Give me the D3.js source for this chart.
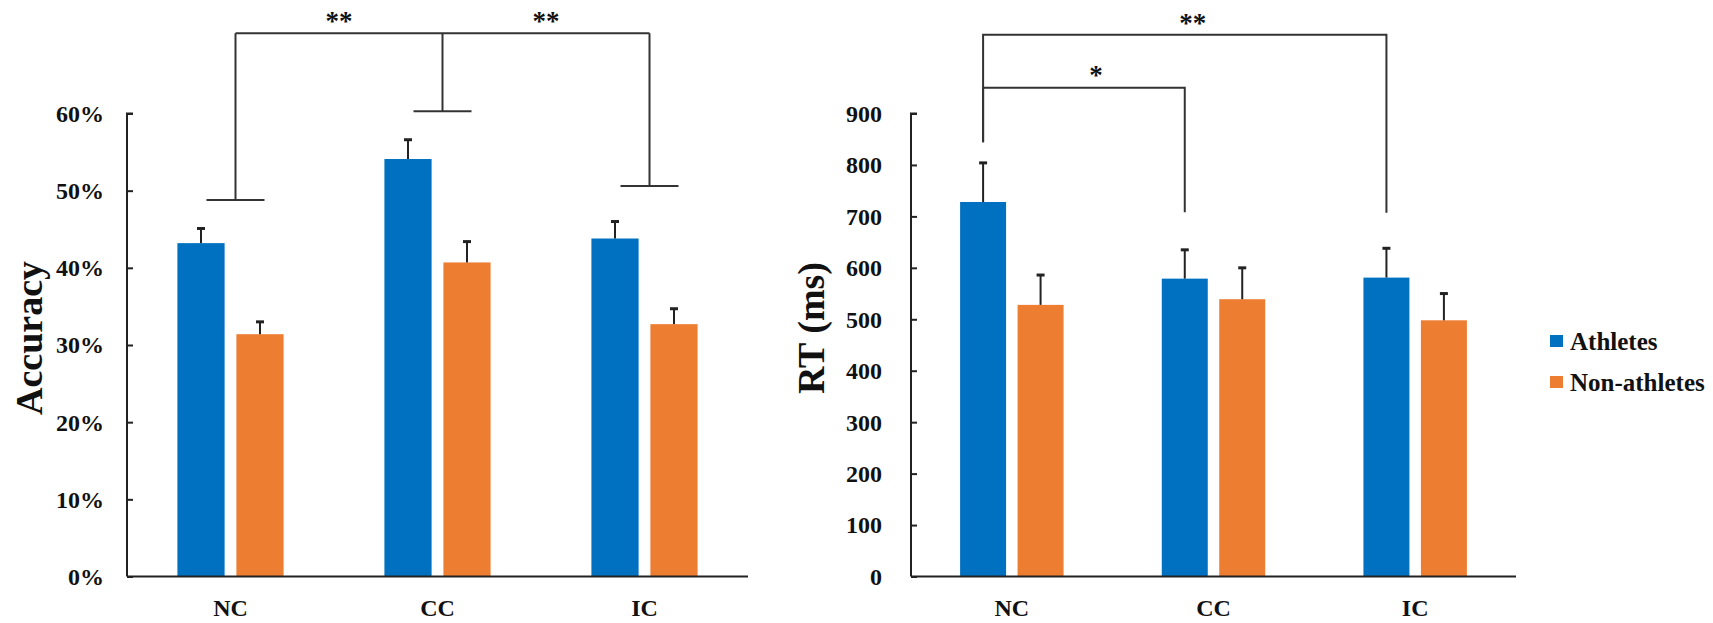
<!DOCTYPE html>
<html>
<head>
<meta charset="utf-8">
<script src="https://cdn.jsdelivr.net/npm/d3@7"></script>
<style>
  body { margin: 0; background: #fff; }
  svg text { font-family: "Liberation Serif", "Times New Roman", serif; font-weight: bold; fill: #111; }
</style>
</head>
<body>
<div id="g"></div>
<script>
// ---- data ----
var categories = ["NC", "CC", "IC"];
var series = ["Athletes", "Non-athletes"];
var colors = ["#0070C0", "#ED7D31"];

var accAthletes = [0.432, 0.541, 0.438];
var accAthletesErr = [0.019, 0.025, 0.022];
var accNon = [0.314, 0.407, 0.327];
var accNonErr = [0.016, 0.027, 0.020];
var accTicks = [0, 0.1, 0.2, 0.3, 0.4, 0.5, 0.6];

var rtAthletes = [728, 579, 581];
var rtAthletesErr = [76, 56, 57];
var rtNon = [528, 539, 498];
var rtNonErr = [58, 61, 52];
var rtTicks = [0, 100, 200, 300, 400, 500, 600, 700, 800, 900];

// significance brackets (leg ends in data units)
var accLegs = [0.488, 0.603, 0.506];
var accBracketTop = 0.704;
var accStars = [["NC", "CC", "**"], ["CC", "IC", "**"]];

var rtOuterLegs = [844, 707];   // NC -> IC
var rtOuterTop = 1053;
var rtInnerLegs = [844, 708];   // NC -> CC
var rtInnerTop = 950;

var WIDTH = 1713, HEIGHT = 623;
var Y0 = 576.5, Y1 = 113.5;

var svg = d3.select("#g").append("svg")
    .attr("width", WIDTH)
    .attr("height", HEIGHT);

function panel(opts) {
    var x0 = d3.scaleBand().domain(categories)
        .range([opts.left, opts.right])
        .paddingInner(0.487).paddingOuter(0.2435);
    var x1 = d3.scaleBand().domain(series)
        .range([0, x0.bandwidth()])
        .paddingInner(0.2).paddingOuter(0);
    var y = d3.scaleLinear().domain(opts.domain).range([Y0, Y1]);

    var g = svg.append("g");

    var rows = [];
    categories.forEach(function(c, i) {
        rows.push({cat: c, s: series[0], v: opts.a[i], e: opts.ae[i], col: colors[0]});
        rows.push({cat: c, s: series[1], v: opts.b[i], e: opts.be[i], col: colors[1]});
    });

    g.selectAll("rect.bar").data(rows).enter().append("rect")
        .attr("class", "bar")
        .attr("x", function(d) { return x0(d.cat) + x1(d.s); })
        .attr("y", function(d) { return y(d.v); })
        .attr("width", x1.bandwidth())
        .attr("height", function(d) { return y(0) - y(d.v); })
        .attr("fill", function(d) { return d.col; });

    // error bars (upper only)
    var mid = function(d) { return x0(d.cat) + x1(d.s) + x1.bandwidth() / 2; };
    var eb = g.selectAll("g.err").data(rows).enter().append("g").attr("class", "err")
        .attr("stroke", "#222").attr("stroke-width", 2);
    eb.append("line")
        .attr("x1", mid).attr("x2", mid)
        .attr("y1", function(d) { return y(d.v); })
        .attr("y2", function(d) { return y(d.v + d.e); });
    eb.append("line")
        .attr("x1", function(d) { return mid(d) - 4; })
        .attr("x2", function(d) { return mid(d) + 4; })
        .attr("y1", function(d) { return y(d.v + d.e); })
        .attr("y2", function(d) { return y(d.v + d.e); })
        .attr("stroke-width", 3);

    // y axis, ticks pointing inward
    var ya = g.append("g")
        .attr("transform", "translate(" + opts.left + ",0)")
        .call(d3.axisRight(y).tickValues(opts.ticks).tickSize(6).tickFormat(function() { return ""; }));
    ya.select(".domain").attr("d", "M6," + Y1 + "H0V" + Y0).attr("stroke", "#222").attr("stroke-width", 2);
    ya.selectAll(".tick line").attr("stroke", "#222").attr("stroke-width", 2);

    g.selectAll("text.ytick").data(opts.ticks).enter().append("text")
        .attr("class", "ytick")
        .attr("x", opts.left - opts.labelGap)
        .attr("y", function(d) { return y(d); })
        .attr("dy", "0.35em")
        .attr("text-anchor", "end")
        .attr("font-size", 24)
        .text(opts.fmt);

    // x axis
    g.append("line")
        .attr("x1", opts.left).attr("x2", opts.right)
        .attr("y1", y(0)).attr("y2", y(0))
        .attr("stroke", "#222").attr("stroke-width", 2);

    g.selectAll("text.xcat").data(categories).enter().append("text")
        .attr("class", "xcat")
        .attr("x", function(d) { return x0(d) + x0.bandwidth() / 2; })
        .attr("y", 616)
        .attr("text-anchor", "middle")
        .attr("font-size", 24)
        .text(function(d) { return d; });

    g.append("text")
        .attr("transform", "translate(" + opts.titleX + "," + opts.titleY + ") rotate(-90)")
        .attr("text-anchor", "middle")
        .attr("font-size", 38)
        .text(opts.title);

    return {x0: x0, x1: x1, y: y, g: g};
}

var L = panel({
    left: 127, right: 748, domain: [0, 0.6], ticks: accTicks,
    a: accAthletes, ae: accAthletesErr, b: accNon, be: accNonErr,
    labelGap: 23, fmt: d3.format(".0%"), title: "Accuracy", titleX: 42, titleY: 338
});

var R = panel({
    left: 911, right: 1516, domain: [0, 900], ticks: rtTicks,
    a: rtAthletes, ae: rtAthletesErr, b: rtNon, be: rtNonErr,
    labelGap: 29, fmt: d3.format("d"), title: "RT (ms)", titleX: 824, titleY: 328
});

// ---- brackets: accuracy ----
var bk = L.g.append("g").attr("stroke", "#333").attr("stroke-width", 2).attr("fill", "none");
function cx(P, c) { return P.x0(c) + P.x0.bandwidth() / 2 + 5; }
var yTop = L.y(accBracketTop);
bk.append("line").attr("x1", cx(L, "NC")).attr("x2", cx(L, "IC")).attr("y1", yTop).attr("y2", yTop);
categories.forEach(function(c, i) {
    var yy = L.y(accLegs[i]);
    bk.append("line").attr("x1", cx(L, c)).attr("x2", cx(L, c)).attr("y1", yTop).attr("y2", yy);
    bk.append("line").attr("x1", cx(L, c) - 29).attr("x2", cx(L, c) + 29).attr("y1", yy).attr("y2", yy);
});
accStars.forEach(function(s) {
    L.g.append("text")
        .attr("x", (cx(L, s[0]) + cx(L, s[1])) / 2)
        .attr("y", yTop - 3)
        .attr("text-anchor", "middle")
        .attr("font-size", 27)
        .attr("font-weight", "normal")
        .text(s[2]);
});

// ---- brackets: RT ----
function ax(c) { return R.x0(c) + R.x1(series[0]) + R.x1.bandwidth() / 2; }
var rb = R.g.append("g").attr("stroke", "#333").attr("stroke-width", 2).attr("fill", "none");
function bracket(c1, c2, legs, top) {
    var yt = R.y(top);
    rb.append("path")
        .attr("d", "M" + ax(c1) + "," + R.y(legs[0]) + "V" + yt + "H" + ax(c2) + "V" + R.y(legs[1]));
    return yt;
}
var yo = bracket("NC", "IC", rtOuterLegs, rtOuterTop);
var yi = bracket("NC", "CC", rtInnerLegs, rtInnerTop);
R.g.append("text").attr("x", (ax("NC") + ax("IC")) / 2 + 8).attr("y", yo - 3)
    .attr("text-anchor", "middle").attr("font-size", 27).attr("font-weight", "normal").text("**");
R.g.append("text").attr("x", (ax("NC") + ax("CC")) / 2 + 12).attr("y", yi - 4)
    .attr("text-anchor", "middle").attr("font-size", 27).attr("font-weight", "normal").text("*");

// ---- legend ----
var lg = svg.append("g").attr("transform", "translate(1550,0)");
series.forEach(function(s, i) {
    var yy = 341 + i * 41;
    lg.append("rect").attr("x", 0).attr("y", yy - 6).attr("width", 13).attr("height", 12).attr("fill", colors[i]);
    lg.append("text").attr("x", 20).attr("y", yy).attr("dy", "0.35em").attr("font-size", 25).text(s);
});
</script>
</body>
</html>
